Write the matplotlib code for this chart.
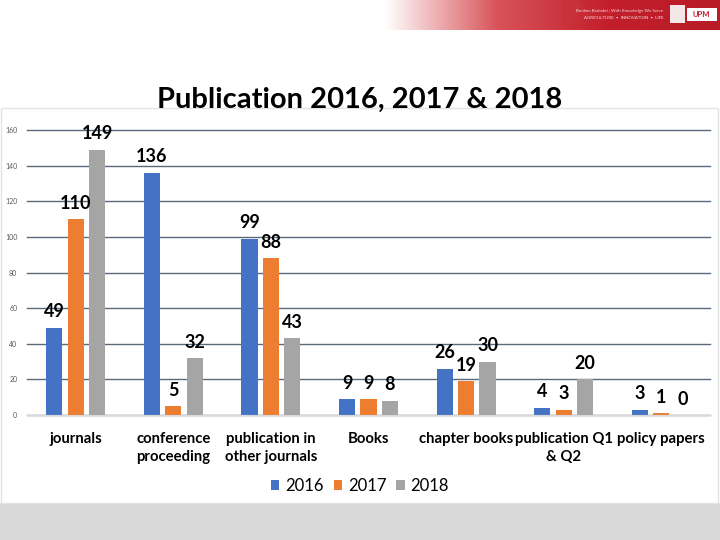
"""Publication counts per category, 2016-2018 (UPM slide)."""

import matplotlib
matplotlib.use("Agg")
import matplotlib.pyplot as plt
from matplotlib.colors import LinearSegmentedColormap
from matplotlib.patches import Rectangle
import numpy as np

plt.rcParams["font.family"] = ["Lato", "DejaVu Sans"]

categories = [
    "journals",
    "conference\nproceeding",
    "publication in\nother journals",
    "Books",
    "chapter books",
    "publication Q1\n& Q2",
    "policy papers",
]
years = ["2016", "2017", "2018"]
counts_2016 = [49, 136, 99, 9, 26, 4, 3]
counts_2017 = [110, 5, 88, 9, 19, 3, 1]
counts_2018 = [149, 32, 43, 8, 30, 20, 0]
colors = ["#4472C4", "#ED7D31", "#A5A5A5"]

fig = plt.figure(figsize=(7.2, 5.4), dpi=100)
fig.patch.set_facecolor("white")

# slide frame and grey footer band
fig.patches.append(Rectangle((0, 0), 1, 37 / 540, transform=fig.transFigure,
                             facecolor="#d9d9d9", edgecolor="none", zorder=0))
fig.patches.append(Rectangle((1 / 720, 37 / 540), 717 / 720, 395 / 540,
                             transform=fig.transFigure, facecolor="none",
                             edgecolor="#e3e3e3", linewidth=1, zorder=0))

# header banner (white -> red gradient)
banner = fig.add_axes([385 / 720, 510 / 540, 335 / 720, 30 / 540])
cmap = LinearSegmentedColormap.from_list("ban", ["#ffffff", "#d8545a", "#c21f2b", "#b81c27"])
banner.imshow(np.linspace(0, 1, 256)[None, :], aspect="auto", cmap=cmap,
              extent=(0, 1, 0, 1))
banner.set_xlim(0, 1)
banner.set_ylim(0, 1)
banner.axis("off")
banner.text(0.55, 0.5, "P", color="#c8323b", fontsize=26, fontweight="bold",
            ha="center", va="center")
banner.text(0.83, 0.64, "Berilmu Berbakti | With Knowledge We Serve",
            color="#f4dede", fontsize=3.2, ha="right", va="center")
banner.text(0.83, 0.4, "AGRICULTURE  •  INNOVATION  •  LIFE",
            color="#f4dede", fontsize=3.2, ha="right", va="center")
banner.add_patch(Rectangle((0.85, 0.22), 0.045, 0.6, facecolor="#f2e6e6",
                           edgecolor="none"))
banner.add_patch(Rectangle((0.9, 0.3), 0.09, 0.45, facecolor="#ffffff",
                           edgecolor="none"))
banner.text(0.945, 0.53, "UPM", color="#c21f2b", fontsize=5.5,
            fontweight="bold", ha="center", va="center")

ax = fig.add_axes([27 / 720, 125 / 540, 683 / 720, 285 / 540])
x = np.arange(len(categories))
width = 0.165
offset = 0.22
series = [counts_2016, counts_2017, counts_2018]
for i, (vals, year, col) in enumerate(zip(series, years, colors)):
    xs = x + (i - 1) * offset
    ax.bar(xs, vals, width, color=col, label=year, zorder=3)
    for xi, v in zip(xs, vals):
        ax.annotate(str(v), (xi, v), xytext=(0, 7.5), textcoords="offset points",
                    ha="center", va="baseline", fontsize=13, fontweight="bold",
                    color="black", zorder=4)

ax.set_xlim(-0.5, len(categories) - 0.5)
ax.set_ylim(0, 160)
ax.set_yticks(range(0, 161, 20))
ax.tick_params(axis="y", labelsize=5, colors="#595959", length=0, pad=7)
ax.set_xticks(x)
ax.set_xticklabels(categories, fontsize=10.7, fontweight="bold",
                   linespacing=1.4)
ax.tick_params(axis="x", length=0, pad=12)
ax.grid(axis="y", color="#596a7b", linewidth=1, zorder=0)
for line in ax.get_ygridlines():
    line.set_clip_on(False)
for s in ["top", "right", "left"]:
    ax.spines[s].set_visible(False)
ax.spines["bottom"].set_color("#d9d9d9")
ax.spines["bottom"].set_zorder(5)
ax.set_facecolor("none")

fig.text(0.5, 440 / 540, "Publication 2016, 2017 & 2018", ha="center",
         va="center", fontsize=21, fontweight="bold")

fig.legend(loc="center", bbox_to_anchor=(0.5, 54 / 540), ncol=3, frameon=False,
           fontsize=12, handlelength=0.5, handleheight=0.5, handletextpad=0.35,
           columnspacing=0.6)

fig.savefig("out.png", dpi=100)
